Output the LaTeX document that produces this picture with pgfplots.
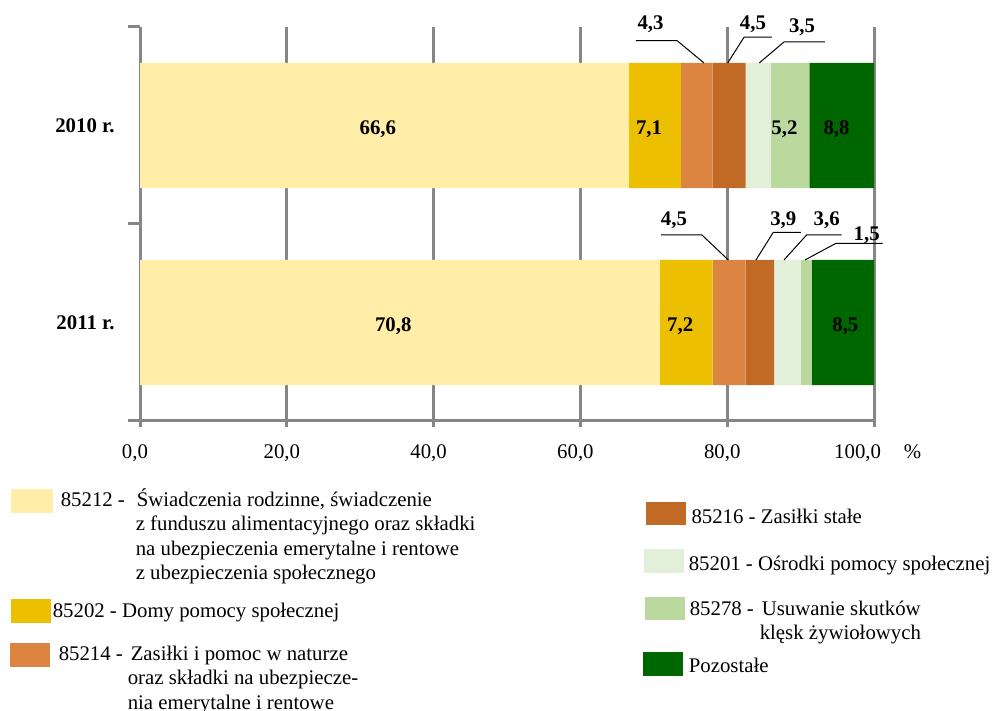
\documentclass[border=0pt]{standalone}
\usepackage{fontspec}
\setmainfont{Liberation Serif}
\usepackage{pgfplots}
\pgfplotsset{compat=1.18}

\definecolor{c1}{RGB}{255,237,168}
\definecolor{c2}{RGB}{236,191,0}
\definecolor{c3}{RGB}{220,132,66}
\definecolor{c4}{RGB}{192,106,38}
\definecolor{c5}{RGB}{226,239,217}
\definecolor{c6}{RGB}{187,217,158}
\definecolor{c7}{RGB}{0,102,0}
\definecolor{axgray}{RGB}{134,134,134}

\pgfplotsset{mainbox/.style={at={(70bp,145bp)}, anchor=south west, scale only axis,
  width=367bp, height=197bp, xmin=0, xmax=100, ymin=-0.5, ymax=1.5, clip=false}}

% #1 colour, #2 left (bp), #3 baseline (bp from bottom), #4 swatch bottom offset, #5 swatch top offset, #6 swatch width, #7 gap, #8 text
\newcommand{\legitem}[8]{%
\begin{axis}[at={(0bp,0bp)}, anchor=south west, scale only axis,
  width=499.5bp, height=355.5bp, hide axis, xmin=0, xmax=1, ymin=0, ymax=1,
  legend style={at={(axis description cs:{#2/499.5},{(#3+14)/355.5})}, anchor=north west,
    draw=none, fill=none, inner sep=0pt, outer sep=0pt, column sep=#7,
    nodes={inner sep=0pt, outer sep=0pt, anchor=base west},
    font=\fontsize{10.4bp}{12.2bp}\selectfont},
  legend image code/.code={\fill[#1] (0bp,#4) rectangle (#6,#5); \path (0bp,14bp);}]
\addlegendimage{black}
\addlegendentry{#8}
\end{axis}}

\begin{document}
\fontsize{10.4bp}{12.2bp}\selectfont
\begin{tikzpicture}
\begin{axis}[
  mainbox,
  xbar stacked, bar width=0.635,
  axis x line*=bottom, axis y line*=left,
  axis line style={axgray, line width=1.5bp},
  xtick={0,20,40,60,80,100},
  xticklabels={{0,0},{20,0},{40,0},{60,0},{80,0},{\hspace*{12bp}\makebox[0pt][r]{100,0}\rlap{\hspace{1.1em}\%}}},
  xticklabel style={xshift=-2.5bp, yshift=-2bp},
  xmajorgrids, major grid style={axgray, line width=1.5bp},
  tick align=outside, major tick length=6bp,
  tick style={axgray, line width=1.5bp},
  xtick style={yshift=3bp},
  ytick={-0.5,0.5,1.5}, yticklabels={},
  extra y ticks={0,1}, extra y tick labels={\textbf{2011 r.},\textbf{2010 r.}},
  extra y tick style={major tick length=0pt, ytick style={draw=none}, yticklabel style={xshift=-9bp}},
]
\addplot[fill=c1, draw=none] coordinates {(66.6,1) (70.8,0)};
\addplot[fill=c2, draw=none] coordinates {(7.1,1) (7.2,0)};
\addplot[fill=c3, draw=none] coordinates {(4.3,1) (4.5,0)};
\addplot[fill=c4, draw=none] coordinates {(4.5,1) (3.9,0)};
\addplot[fill=c5, draw=none] coordinates {(3.5,1) (3.6,0)};
\addplot[fill=c6, draw=none] coordinates {(5.2,1) (1.5,0)};
\addplot[fill=c7, draw=none] coordinates {(8.8,1) (8.5,0)};
\end{axis}

% value labels, drawn over the bars in an overlay axis with the same frame
\begin{axis}[mainbox, hide axis]
\node[font=\bfseries] at (axis cs:32.4,0.98) {66,6};
\node[font=\bfseries] at (axis cs:69.35,0.98) {7,1};
\node[font=\bfseries] at (axis cs:87.8,0.98) {5,2};
\node[font=\bfseries] at (axis cs:94.9,0.98) {8,8};
\node[font=\bfseries] at (axis cs:34.5,-0.02) {70,8};
\node[font=\bfseries] at (axis cs:73.6,-0.02) {7,2};
\node[font=\bfseries] at (axis cs:96.1,-0.02) {8,5};

\node[font=\bfseries] at (axis cs:69.55,1.515) {4,3};
\draw[line width=0.5bp] (axis cs:67.57,1.431) -- (axis cs:73.16,1.431) -- (axis cs:76.84,1.3175);
\node[font=\bfseries] at (axis cs:83.51,1.513) {4,5};
\draw[line width=0.5bp] (axis cs:86.10,1.448) -- (axis cs:82.29,1.448) -- (axis cs:80.07,1.3175);
\node[font=\bfseries] at (axis cs:90.19,1.50) {3,5};
\draw[line width=0.5bp] (axis cs:93.32,1.424) -- (axis cs:87.74,1.424) -- (axis cs:84.37,1.3175);

\node[font=\bfseries] at (axis cs:72.75,0.519) {4,5};
\draw[line width=0.5bp] (axis cs:70.98,0.445) -- (axis cs:76.53,0.445) -- (axis cs:80.15,0.3175);
\node[font=\bfseries] at (axis cs:87.64,0.519) {3,9};
\draw[line width=0.5bp] (axis cs:90.05,0.458) -- (axis cs:86.28,0.458) -- (axis cs:83.92,0.3175);
\node[font=\bfseries] at (axis cs:93.56,0.519) {3,6};
\draw[line width=0.5bp] (axis cs:95.60,0.445) -- (axis cs:90.83,0.445) -- (axis cs:87.74,0.3175);
\node[font=\bfseries] at (axis cs:99.0,0.443) {1,5};
\draw[line width=0.5bp] (axis cs:101.18,0.402) -- (axis cs:94.82,0.402) -- (axis cs:90.60,0.3175);
\end{axis}

% legend
\legitem{c1}{5.5}{102.5}{-3bp}{8.5bp}{20.5bp}{4bp}{\begin{tabular}[t]{@{}l@{}}\makebox[38bp][l]{85212 -}Świadczenia rodzinne, świadczenie\\\hspace*{37.5bp}z funduszu alimentacyjnego oraz składki\\\hspace*{37.5bp}na ubezpieczenia emerytalne i rentowe\\\hspace*{37.5bp}z ubezpieczenia społecznego\end{tabular}}
\legitem{c2}{5.5}{47.15}{-2.5bp}{8.85bp}{19.5bp}{1bp}{85202 - Domy pomocy społecznej}
\legitem{c3}{5}{25.5}{-2.85bp}{8.5bp}{19.5bp}{4.5bp}{\begin{tabular}[t]{@{}l@{}}\makebox[36bp][l]{85214 -}Zasiłki i pomoc w naturze\\\hspace*{34.5bp}oraz składki na ubezpiecze-\\\hspace*{34.5bp}nia emerytalne i rentowe\end{tabular}}
\legitem{c4}{323}{94.15}{-0.8bp}{10.5bp}{19.5bp}{2.85bp}{85216 - Zasiłki stałe}
\legitem{c5}{322}{70.5}{-0.85bp}{10.5bp}{19.5bp}{2.5bp}{85201 - Ośrodki pomocy społecznej}
\legitem{c6}{322.5}{48}{-2.15bp}{9.15bp}{19.5bp}{2.5bp}{\begin{tabular}[t]{@{}l@{}}\makebox[36bp][l]{85278 -}Usuwanie skutków\\\hspace*{35bp}klęsk żywiołowych\end{tabular}}
\legitem{c7}{321.5}{19.65}{-1.65bp}{9.7bp}{19.5bp}{3bp}{Pozostałe}

\pgfresetboundingbox
\path[use as bounding box] (0bp,0bp) rectangle (499.5bp,355.5bp);
\end{tikzpicture}
\end{document}
